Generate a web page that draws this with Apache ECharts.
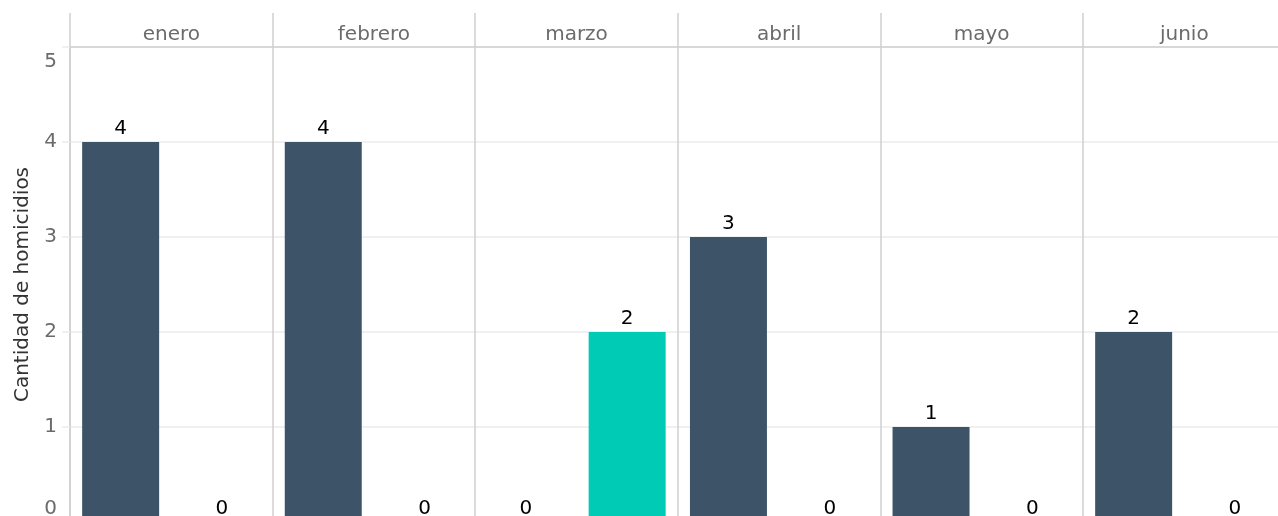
<!DOCTYPE html>
<html>
<head>
<meta charset="utf-8">
<script src="https://cdn.jsdelivr.net/npm/echarts@6/dist/echarts.min.js"></script>
<style>
    html, body { margin: 0; padding: 0; background: #fff; }
    #chart { width: 1278px; height: 516px; }
</style>
</head>
<body>
<div id="chart"></div>
<script>
// datos por mes (dos barras por panel)
var months = ['enero', 'febrero', 'marzo', 'abril', 'mayo', 'junio']
var darkValues = [4, 4, 0, 3, 1, 2]
var tealValues = [0, 0, 2, 0, 0, 0]
var yTicks = [0, 1, 2, 3, 4, 5]

var darkColor = '#3d5468'
var tealColor = '#00cbb4'
var fontFamily = 'DejaVu Sans'
var labelGray = '#6b6b6b'

// armar categorias y datos de las barras
var barCats = []
var barData = []
months.forEach(function (m, i) {
    barCats.push(m + '-a')
    barData.push({ value: darkValues[i], itemStyle: { color: darkColor } })
    barCats.push(m + '-b')
    barData.push({ value: tealValues[i], itemStyle: { color: tealColor } })
})

var chart = echarts.init(document.getElementById('chart'))
chart.setOption({
    animation: false,
    backgroundColor: '#ffffff',
    textStyle: { fontFamily: fontFamily },
    grid: {
        left: 70,
        top: 47,
        width: 1215.6,   // el ultimo panel queda cortado a la derecha
        height: 475,     // el cero queda un poco por debajo del borde
        outerBoundsMode: 'none'
    },
    xAxis: [
        {
            // eje de las barras (oculto)
            type: 'category',
            data: barCats,
            position: 'bottom',
            show: false
        },
        {
            // paneles por mes: etiquetas arriba y lineas separadoras
            type: 'category',
            data: months,
            position: 'top',
            axisLine: { show: true, lineStyle: { color: '#cfcfcf', width: 1.5 } },
            axisTick: { show: true, length: 34, lineStyle: { color: '#cfcfcf', width: 1.5 } },
            axisLabel: {
                margin: 2,
                fontSize: 20,
                color: labelGray,
                fontFamily: fontFamily
            },
            splitLine: { show: true, lineStyle: { color: '#cfcfcf', width: 1.5 } }
        }
    ],
    yAxis: {
        type: 'value',
        min: yTicks[0],
        max: yTicks[yTicks.length - 1],
        interval: 1,
        name: 'Cantidad de homicidios',
        nameLocation: 'middle',
        nameGap: 37,
        nameTextStyle: { fontSize: 20, color: '#333333', fontFamily: fontFamily },
        axisLine: { show: true, lineStyle: { color: '#cfcfcf', width: 1.5 } },
        axisTick: { show: true, length: 8, lineStyle: { color: '#ebebeb', width: 1.5 } },
        axisLabel: {
            margin: 13,
            fontSize: 20,
            color: labelGray,
            fontFamily: fontFamily,
            formatter: function (v) {
                if (v === 5) return '{t|5}'
                if (v === 0) return '{b|0}'
                return String(v)
            },
            rich: {
                t: { fontSize: 20, color: labelGray, fontFamily: fontFamily, padding: [30, 0, 0, 0] },
                b: { fontSize: 20, color: labelGray, fontFamily: fontFamily, padding: [0, 0, 26, 0] }
            }
        },
        splitLine: { show: true, lineStyle: { color: '#ebebeb', width: 1.5 } }
    },
    series: [
        {
            type: 'bar',
            xAxisIndex: 0,
            data: barData,
            barWidth: '76%',
            label: {
                show: true,
                position: 'top',
                distance: 3,
                fontSize: 20,
                color: '#000000',
                fontFamily: fontFamily
            }
        }
    ]
})
</script>
</body>
</html>
